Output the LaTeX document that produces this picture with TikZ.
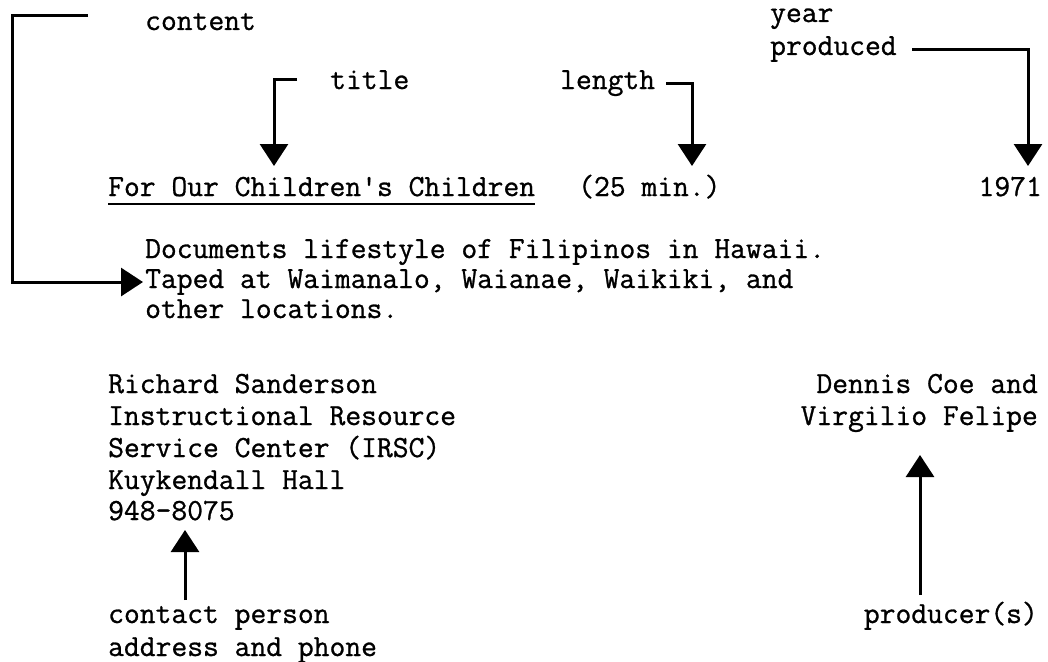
\documentclass[tikz,border=0pt]{standalone}
\usepackage{fontspec}
\newfontfamily\tw{Latin Modern Mono}[FakeBold=0.9]
\usetikzlibrary{arrows.meta}
\begin{document}
\begin{tikzpicture}[x=1pt,y=-1pt,
  txt/.style={anchor=base west, inner sep=0pt, font=\tw\fontsize{30.7}{31}\selectfont},
  rtxt/.style={txt, anchor=base east},
  conn/.style={line width=3pt, -{Triangle[width=28pt,length=22pt]}},
  uline/.style={line width=1.8pt}]
\useasboundingbox (0,0) rectangle (1048,661);
% labels on top
\node[txt] (content) at (145,30) {content};
\node[txt] (year) at (770,22) {year};
\node[txt] (produced) at (770,55) {produced};
\node[txt] (title) at (330,89) {title};
\node[txt] (length) at (560,89) {length};
% main line
\node[txt] (maintitle) at (108,196) {For Our Children's Children};
\node[txt] (minutes) at (578,196) {(25 min.)};
\node[rtxt] (yr) at (1042,196) {1971};
\draw[uline] ([yshift=-8]maintitle.base west) -- ([yshift=-8]maintitle.base east);
% description
\node[txt] (doc1) at (145,258) {Documents lifestyle of Filipinos in Hawaii.};
\node[txt] (doc2) at (145,288) {Taped at Waimanalo, Waianae, Waikiki, and};
\node[txt] (doc3) at (145,318) {other locations.};
% contact block
\node[txt] (c1) at (108,393) {Richard Sanderson};
\node[txt] (c2) at (108,425) {Instructional Resource};
\node[txt] (c3) at (108,457) {Service Center (IRSC)};
\node[txt] (c4) at (108,489) {Kuykendall Hall};
\node[txt] (c5) at (108,520) {948-8075};
% producers
\node[rtxt] (p1) at (1038,393) {Dennis Coe and};
\node[rtxt] (p2) at (1038,425) {Virgilio Felipe};
% bottom labels
\node[txt] (contact) at (108,623) {contact person};
\node[txt] (address) at (108,656) {address and phone};
\node[rtxt] (producer) at (1038,623) {producer(s)};
% connector coordinates
\coordinate (cstart) at (88,16);
\coordinate (ccorner) at (12,16);
\coordinate (tstart) at (297,79);
\coordinate (ttip) at (274,166);
\coordinate (lstart) at (666,83);
\coordinate (ltip) at (692,166);
\coordinate (ystart) at (912,50);
\coordinate (ytip) at (1028,166);
\coordinate (kstart) at (185,600);
\coordinate (ktip) at (185,530);
\coordinate (pstart) at (920,595);
\coordinate (ptip) at (920,455);
% connectors
\draw[conn] (cstart) -- (ccorner) |- ([xshift=-2]doc2.west);
\draw[conn] (tstart) -| (ttip);
\draw[conn] (lstart) -| (ltip);
\draw[conn] (ystart) -| (ytip);
\draw[conn] (kstart) -- (ktip);
\draw[conn] (pstart) -- (ptip);
\end{tikzpicture}
\end{document}
